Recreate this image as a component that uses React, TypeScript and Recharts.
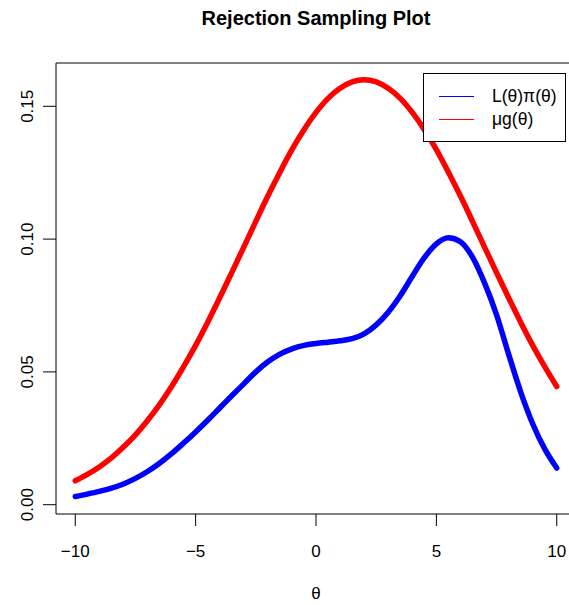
import { Line, LineChart, ReferenceArea, XAxis, YAxis } from "recharts";

const thetas = [
  -10, -9.5, -9, -8.5, -8, -7.5, -7, -6.5, -6, -5.5, -5, -4.5, -4, -3.5, -3,
  -2.5, -2, -1.5, -1, -0.5, 0, 0.5, 1, 1.5, 2, 2.5, 3, 3.5, 4, 4.5, 5, 5.5, 6,
  6.5, 7, 7.5, 8, 8.5, 9, 9.5, 10,
];

// L(theta) * pi(theta)
const likePrior = [
  0.0031, 0.004, 0.005, 0.0062, 0.0078, 0.0099, 0.0125, 0.0156, 0.0192,
  0.0232, 0.0274, 0.0318, 0.0364, 0.041, 0.0455, 0.05, 0.0538, 0.0567, 0.0587,
  0.06, 0.0607, 0.0612, 0.0617, 0.0625, 0.0643, 0.0677, 0.0725, 0.0787, 0.086,
  0.093, 0.0982, 0.1005, 0.099, 0.0932, 0.0835, 0.0715, 0.0567, 0.0425,
  0.0305, 0.021, 0.0138,
];

// mu * g(theta)
const muG = [
  0.009, 0.0114, 0.0142, 0.0176, 0.0217, 0.0263, 0.0317, 0.0377, 0.0445,
  0.052, 0.06, 0.0687, 0.0779, 0.0874, 0.097, 0.1067, 0.1162, 0.1252, 0.1337,
  0.1412, 0.1477, 0.153, 0.1568, 0.1592, 0.16, 0.1592, 0.1568, 0.153, 0.1477,
  0.1412, 0.1337, 0.1252, 0.1162, 0.1067, 0.097, 0.0874, 0.0779, 0.0687, 0.06,
  0.052, 0.0445,
];

const xTicks = [-10, -5, 0, 5, 10];
const yTicks = [0, 0.05, 0.1, 0.15];

const data = thetas.map((t, i) => ({ t, lp: likePrior[i], mg: muG[i] }));

const FONT = '"Liberation Sans", Arial, Helvetica, sans-serif';
const X_DOMAIN = [-10.8, 10.8];
const Y_DOMAIN = [-0.0035, 0.1663];

function YTick(props: any) {
  const { y, payload } = props;
  return (
    <text
      x={33}
      y={y}
      transform={`rotate(-90, 33, ${y})`}
      textAnchor="middle"
      fontSize={17}
      fontFamily={FONT}
      fill="#000"
    >
      {Number(payload.value).toFixed(2)}
    </text>
  );
}

function LegendRow({ color, label }: { color: string; label: string }) {
  return (
    <div style={{ display: "flex", alignItems: "center", height: 23 }}>
      <div style={{ width: 35, height: 0, borderTop: `1px solid ${color}`, marginLeft: 15 }} />
      <span style={{ marginLeft: 18 }}>{label}</span>
    </div>
  );
}

export default function App() {
  return (
    <div
      style={{
        position: "absolute",
        left: 0,
        top: 0,
        width: 569,
        height: 605,
        overflow: "hidden",
        background: "#fff",
      }}
    >
      <div
        style={{
          position: "absolute",
          left: 0,
          width: 632,
          top: 7,
          textAlign: "center",
          fontFamily: FONT,
          fontWeight: "bold",
          fontSize: 20,
        }}
      >
        Rejection Sampling Plot
      </div>
      <LineChart
        width={590}
        height={605}
        data={data}
        margin={{ top: 63, right: 14, bottom: 0, left: 0 }}
      >
        <XAxis
          dataKey="t"
          type="number"
          domain={X_DOMAIN}
          ticks={xTicks}
          allowDataOverflow
          axisLine={false}
          tickSize={12}
          tickMargin={19}
          height={91}
          tickLine={{ stroke: "#000" }}
          tick={{ fill: "#000", fontSize: 17, fontFamily: FONT }}
          tickFormatter={(v: number) => (v < 0 ? "\u2212" + Math.abs(v) : String(v))}
        />
        <YAxis
          type="number"
          domain={Y_DOMAIN}
          ticks={yTicks}
          allowDataOverflow
          axisLine={false}
          width={56}
          tickSize={13}
          tickLine={{ stroke: "#000" }}
          tick={<YTick />}
        />
        <ReferenceArea
          x1={X_DOMAIN[0]}
          x2={X_DOMAIN[1]}
          y1={Y_DOMAIN[0]}
          y2={Y_DOMAIN[1]}
          fill="none"
          stroke="#000"
          strokeWidth={1}
          ifOverflow="visible"
        />
        <Line
          dataKey="mg"
          type="monotone"
          stroke="#ff0000"
          strokeWidth={5.5}
          strokeLinecap="round"
          dot={false}
          isAnimationActive={false}
        />
        <Line
          dataKey="lp"
          type="monotone"
          stroke="#0000ff"
          strokeWidth={5.5}
          strokeLinecap="round"
          dot={false}
          isAnimationActive={false}
        />
      </LineChart>
      <div
        style={{
          position: "absolute",
          left: 423,
          top: 73,
          width: 143,
          height: 69,
          border: "1px solid #000",
          background: "#fff",
          boxSizing: "border-box",
          paddingTop: 11,
          fontFamily: FONT,
          fontSize: 17.5,
          color: "#000",
          lineHeight: "23px",
        }}
      >
        <LegendRow color="#0000ff" label="L(θ)π(θ)" />
        <LegendRow color="#ff0000" label="μg(θ)" />
      </div>
      <div
        style={{
          position: "absolute",
          left: 0,
          width: 632,
          top: 584,
          textAlign: "center",
          fontFamily: FONT,
          fontSize: 17,
        }}
      >
        θ
      </div>
    </div>
  );
}
